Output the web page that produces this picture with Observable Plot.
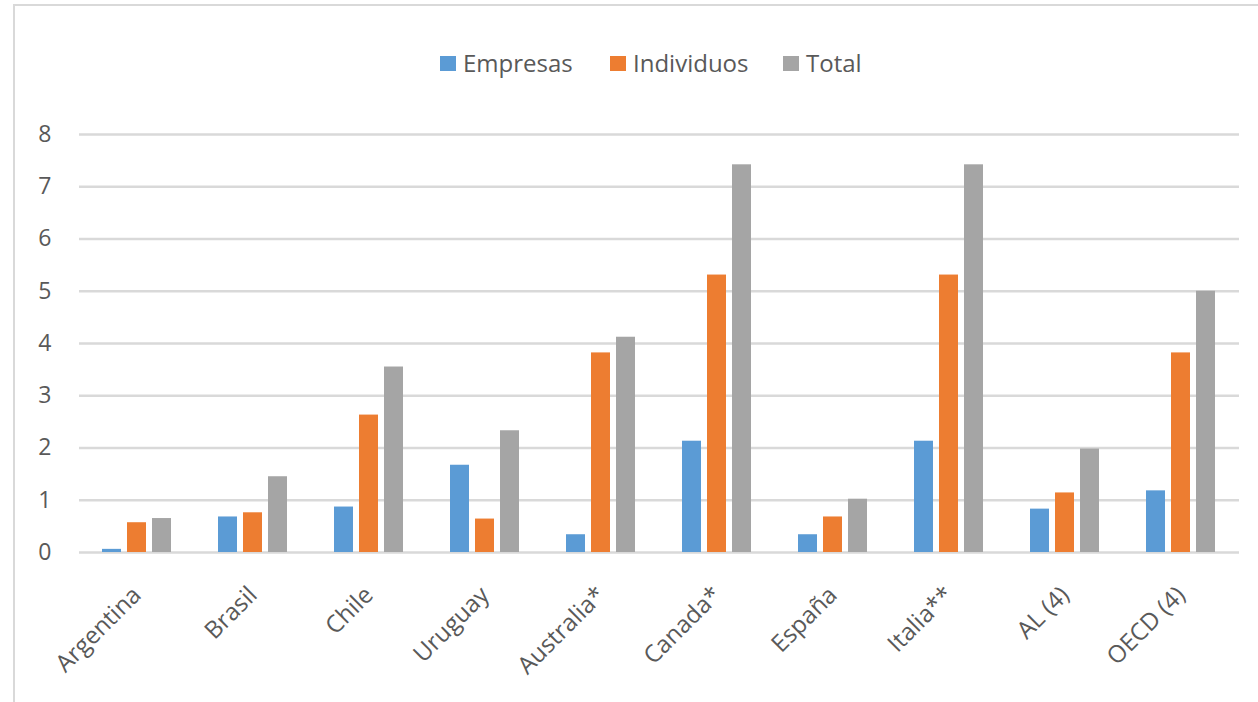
<!DOCTYPE html>
<html>
<head>
<meta charset="utf-8">
<script src="https://cdn.jsdelivr.net/npm/d3@7"></script>
<script src="https://cdn.jsdelivr.net/npm/@observablehq/plot@0.6"></script>
<style>
  html, body { margin: 0; padding: 0; background: #fff; overflow: hidden; }
  body { width: 1258px; height: 702px; position: relative; font-family: "Open Sans", sans-serif; }
  #frame { position: absolute; left: 13px; top: 4px; width: 1300px; height: 760px;
           border-top: 2px solid #d9d9d9; border-left: 2px solid #d9d9d9; }
  #legend { position: absolute; top: 46px; left: 0; width: 1258px; height: 32px; }
  .item { position: absolute; top: 0; height: 32px; display: flex; align-items: center;
          font-size: 24px; color: #595959; white-space: nowrap; }
  .sw { width: 16px; height: 15px; margin-right: 7px; margin-top: 2px; }
  #chart { position: absolute; left: 0; top: 100px; }
</style>
</head>
<body>
<div id="frame"></div>
<div id="legend"></div>
<div id="chart"></div>
<script>
const countries = ["Argentina", "Brasil", "Chile", "Uruguay", "Australia*", "Canada*", "España", "Italia**", "AL (4)", "OECD (4)"];
const series = ["Empresas", "Individuos", "Total"];
const empresas = [0.06, 0.68, 0.87, 1.67, 0.34, 2.13, 0.34, 2.13, 0.83, 1.18];
const individuos = [0.57, 0.76, 2.63, 0.64, 3.82, 5.31, 0.68, 5.31, 1.14, 3.82];
const total = [0.65, 1.45, 3.55, 2.33, 4.12, 7.42, 1.02, 7.42, 1.98, 5.00];
const yTicks = [0, 1, 2, 3, 4, 5, 6, 7, 8];
const colors = ["#5b9bd5", "#ed7d31", "#a5a5a5"];

const seriesValues = [empresas, individuos, total];
const rows = [];
countries.forEach((c, i) => {
  series.forEach((s, j) => rows.push({country: c, series: s, value: seriesValues[j][i]}));
});

// Legend
const legendLefts = [440, 610, 783];
const legend = document.getElementById("legend");
series.forEach((s, j) => {
  const it = document.createElement("div");
  it.className = "item";
  it.style.left = legendLefts[j] + "px";
  const sw = document.createElement("div");
  sw.className = "sw";
  sw.style.background = colors[j];
  const tx = document.createElement("span");
  tx.textContent = s;
  it.appendChild(sw);
  it.appendChild(tx);
  legend.appendChild(it);
});

const chart = Plot.plot({
  width: 1258,
  height: 602,
  marginTop: 34,
  marginBottom: 150,
  marginLeft: 77,
  marginRight: 18,
  style: {fontFamily: "Open Sans", fontSize: "23px", color: "#595959", background: "transparent"},
  fx: {domain: countries, padding: 0, axis: null},
  x: {domain: series, paddingInner: 0.23, paddingOuter: 0.85, axis: null},
  y: {domain: [0, 8], ticks: 8, tickSize: 0, tickPadding: 28, label: null, tickFormat: d3.format("d")},
  color: {domain: series, range: colors},
  marks: [
    Plot.ruleY(yTicks, {y: d => d, stroke: "#d9d9d9", strokeWidth: 2.5}),
    Plot.barY(rows, {fx: "country", x: "series", y: "value", fill: "series"}),
    Plot.text(countries, {
      fx: d => d, text: d => d, frameAnchor: "bottom",
      rotate: -45, textAnchor: "end", lineAnchor: "bottom",
      dx: 5, dy: 44, fill: "#595959", fontSize: 24
    })
  ]
});
document.getElementById("chart").appendChild(chart);
</script>
</body>
</html>
